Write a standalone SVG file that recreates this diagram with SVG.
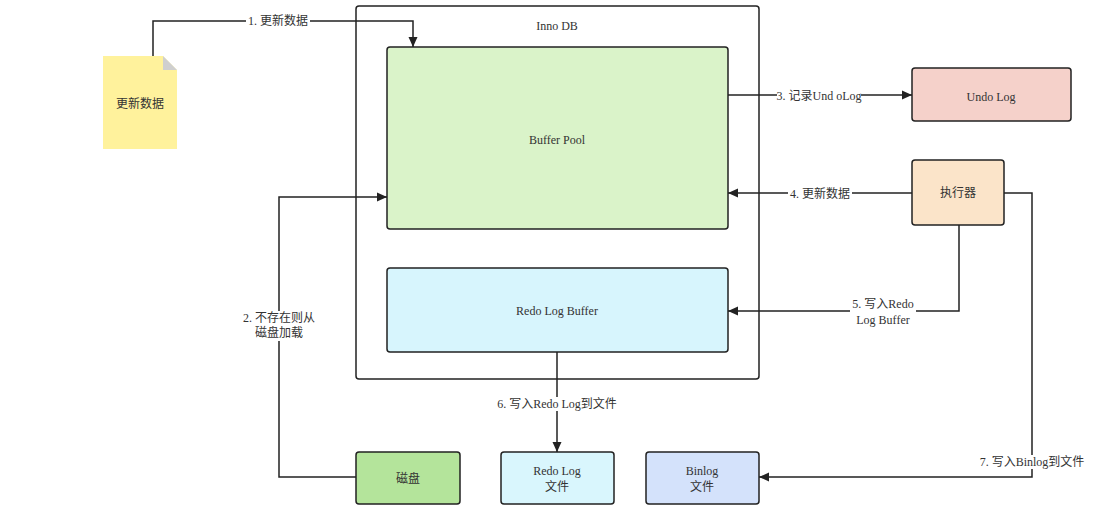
<svg xmlns="http://www.w3.org/2000/svg" width="1115" height="525" viewBox="0 0 1115 525">
<style>
.n{stroke:#222;stroke-width:1.5}
.t{font-family:"Liberation Serif","Noto Sans CJK SC",serif;font-size:12px;fill:#333;text-anchor:middle;dominant-baseline:central}
.c{fill:none;stroke:#222;stroke-width:1.5}
.lb{fill:#fff}
</style>
<defs>
<marker id="ar" viewBox="0 0 10 10" refX="10" refY="5" markerWidth="10" markerHeight="10" markerUnits="userSpaceOnUse" orient="auto">
<path d="M0,0.5 L10,5 L0,9.5 Z" fill="#222"/>
</marker>
</defs>
<rect width="1115" height="525" fill="#fff"/>
<g id="innodb">
<rect class="n" x="356" y="6" width="403" height="373" rx="3" fill="#fff"/>
<text class="t" x="557" y="26">Inno DB</text>
</g>
<g id="bufferpool">
<rect class="n" x="387" y="47" width="341" height="182" rx="3" fill="#daf3c9"/>
<text class="t" x="557" y="140">Buffer Pool</text>
</g>
<g id="redologbuffer">
<rect class="n" x="387" y="268" width="341" height="84" rx="3" fill="#d7f5fd"/>
<text class="t" x="557" y="311">Redo Log Buffer</text>
</g>
<g id="doc">
<path d="M103,56 H163 L177,70 V149 H103 Z" fill="#fff29c"/>
<path d="M163,56 L177,70 H163 Z" fill="#cfcfcf"/>
<text class="t" x="140" y="104">更新数据</text>
</g>
<g id="undolog">
<rect class="n" x="912" y="68" width="159" height="53" rx="3" fill="#f5d1ca"/>
<text class="t" x="991" y="97">Undo Log</text>
</g>
<g id="executor">
<rect class="n" x="912" y="160" width="92" height="65" rx="3" fill="#fbe4c9"/>
<text class="t" x="958" y="193">执行器</text>
</g>
<g id="disk">
<rect class="n" x="356" y="452" width="104" height="52" rx="3" fill="#b4e49b"/>
<text class="t" x="408" y="479">磁盘</text>
</g>
<g id="redofile">
<rect class="n" x="501" y="452" width="113" height="52" rx="3" fill="#d9f6fd"/>
<text class="t" x="557" y="471">Redo Log</text>
<text class="t" x="557" y="487">文件</text>
</g>
<g id="binlogfile">
<rect class="n" x="646" y="452" width="113" height="52" rx="3" fill="#d4e2fb"/>
<text class="t" x="702" y="471">Binlog</text>
<text class="t" x="702" y="487">文件</text>
</g>
<g id="connectors">
<path class="c" d="M153,56 V21 H413 V47" marker-end="url(#ar)"/>
<rect class="lb" x="246" y="14" width="64" height="14"/>
<text class="t" x="278" y="21">1. 更新数据</text>
<path class="c" d="M356,477 H279 V197 H387" marker-end="url(#ar)"/>
<rect class="lb" x="240" y="311" width="78" height="30"/>
<text class="t" x="279" y="318">2. 不存在则从</text>
<text class="t" x="279" y="333">磁盘加载</text>
<path class="c" d="M728,95 H912" marker-end="url(#ar)"/>
<rect class="lb" x="777" y="89" width="84" height="14"/>
<text class="t" x="819" y="96">3. 记录Und oLog</text>
<path class="c" d="M912,193 H728" marker-end="url(#ar)"/>
<rect class="lb" x="788" y="186" width="64" height="14"/>
<text class="t" x="820" y="194">4. 更新数据</text>
<path class="c" d="M959,225 V311 H728" marker-end="url(#ar)"/>
<rect class="lb" x="850" y="297" width="66" height="30"/>
<text class="t" x="883" y="304">5. 写入Redo</text>
<text class="t" x="883" y="320">Log Buffer</text>
<path class="c" d="M557,352 V452" marker-end="url(#ar)"/>
<rect class="lb" x="494" y="397" width="126" height="14"/>
<text class="t" x="557" y="404">6. 写入Redo Log到文件</text>
<path class="c" d="M1004,193 H1032 V477 H759" marker-end="url(#ar)"/>
<rect class="lb" x="978" y="455" width="108" height="14"/>
<text class="t" x="1032" y="462">7. 写入Binlog到文件</text>
</g>
</svg>
